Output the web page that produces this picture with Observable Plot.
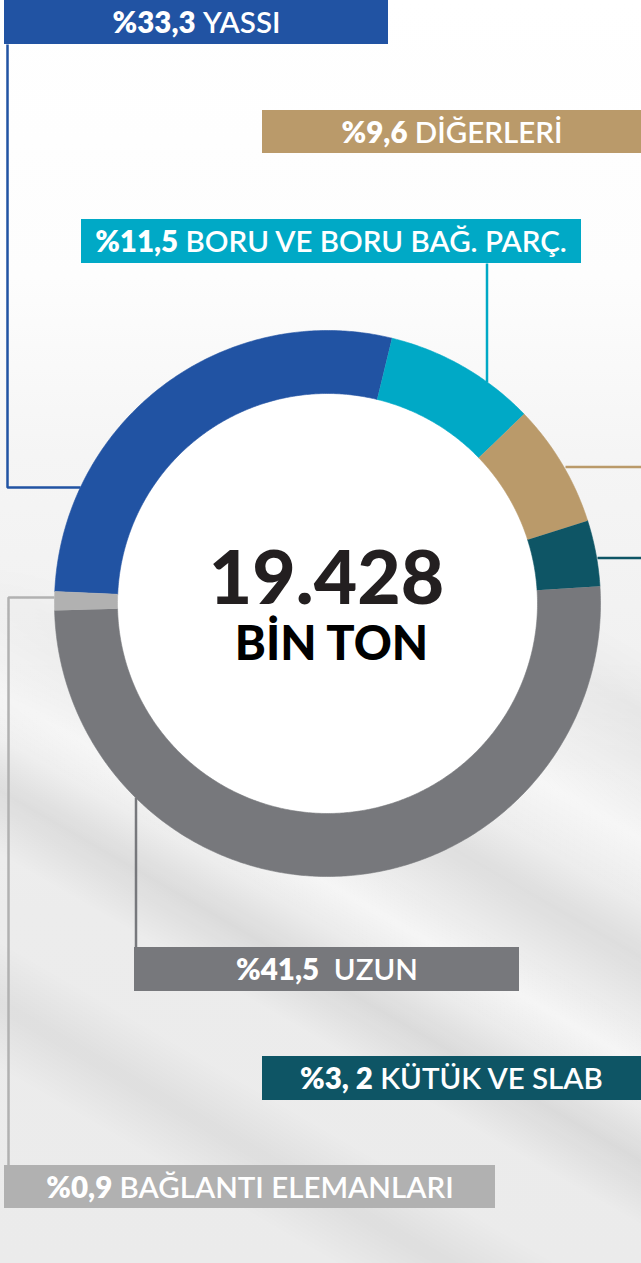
<!DOCTYPE html>
<html>
<head>
<meta charset="utf-8">
<script src="https://cdn.jsdelivr.net/npm/d3@7"></script>
<script src="https://cdn.jsdelivr.net/npm/@observablehq/plot@0.6"></script>
<style>
  html, body { margin: 0; padding: 0; }
  body {
    width: 641px; height: 1263px; overflow: hidden; position: relative;
    background: linear-gradient(180deg, #ffffff 0%, #fdfdfd 22%, #f5f5f5 36%, #f1f1f1 52%, #ececec 72%, #ebebeb 100%);
  }
  #streaks {
    position: absolute; left: 0; top: 560px; width: 641px; height: 703px;
    background:
      linear-gradient(30deg, transparent 0%, transparent 18%, rgba(0,0,0,0.05) 24%, transparent 30%,
        transparent 38%, rgba(0,0,0,0.07) 44%, transparent 49%, rgba(255,255,255,0.5) 53%, transparent 57%,
        rgba(0,0,0,0.06) 63%, transparent 68%, rgba(255,255,255,0.5) 74%, transparent 79%,
        rgba(0,0,0,0.05) 86%, transparent 92%);
    -webkit-mask-image: linear-gradient(to bottom, transparent 0%, #000 30%);
    mask-image: linear-gradient(to bottom, transparent 0%, #000 30%);
  }
  #chart { position: absolute; left: 0; top: 0; }
</style>
</head>
<body>
<div id="streaks"></div>
<div id="chart"></div>
<script>
// ---------- data ----------
const categories = ["YASSI", "BORU VE BORU BAĞ. PARÇ.", "DİĞERLERİ", "KÜTÜK VE SLAB", "UZUN", "BAĞLANTI ELEMANLARI"];
const pctLabels  = ["%33,3", "%11,5", "%9,6", "%3, 2", "%41,5", "%0,9"];
// arc share of each slice as drawn in the picture (percent of the ring)
const arcShare   = [28.1, 9.0, 7.3, 3.9, 50.6, 1.1];
const colors     = ["#2153a3", "#00a9c6", "#ba9a6a", "#0e5565", "#77787c", "#b1b1b1"];
const totalValue = "19.428";
const totalUnit  = "BİN TON";

// ---------- layout ----------
const W = 641, H = 1263;
const ring = {cx: 327, cy: 603, outer: 273, inner: 210, startDeg: 272.5};
const labelLayout = [
  {x1: 4,   y1: 0,    x2: 388, y2: 44,  gap: 1, leader: [[7, 44], [7, 487], [80, 487]]},
  {x1: 81,  y1: 219,  x2: 581, y2: 263, gap: 1, leader: [[486.5, 263], [486.5, 382]]},
  {x1: 262, y1: 110,  x2: 641, y2: 153, gap: 1, leader: [[565, 466.5], [641, 466.5]]},
  {x1: 262, y1: 1056, x2: 641, y2: 1100, gap: 1, leader: [[597, 557.5], [641, 557.5]]},
  {x1: 134, y1: 947,  x2: 519, y2: 991, gap: 2, leader: [[135.5, 797], [135.5, 947]]},
  {x1: 4,   y1: 1165, x2: 495, y2: 1208, gap: 1, leader: [[54, 597], [8, 597], [8, 1165]]}
];
const labelFont = {family: "Lato", size: 29.5, capRatio: 0.72, pctWeight: 800, nameWeight: 600};

// ---------- build ----------
const rows = categories.map((name, i) => ({name, share: arcShare[i], pct: pctLabels[i]}));
const a0 = ring.startDeg * Math.PI / 180;
const arcs = d3.pie().sort(null).value(d => d.share).startAngle(a0).endAngle(a0 + 2 * Math.PI)(rows);

const ringPts = arcs.flatMap(a => {
  const n = Math.max(2, Math.ceil((a.endAngle - a.startAngle) / (Math.PI / 360)));
  const pts = [];
  for (let k = 0; k <= n; k++) {
    const t = a.startAngle + (a.endAngle - a.startAngle) * k / n;
    pts.push({name: a.data.name, x: ring.cx + ring.outer * Math.sin(t), y: ring.cy - ring.outer * Math.cos(t)});
  }
  for (let k = n; k >= 0; k--) {
    const t = a.startAngle + (a.endAngle - a.startAngle) * k / n;
    pts.push({name: a.data.name, x: ring.cx + ring.inner * Math.sin(t), y: ring.cy - ring.inner * Math.cos(t)});
  }
  return pts;
});

const leaderPts = rows.flatMap((r, i) => labelLayout[i].leader.map(([x, y]) => ({name: r.name, x, y})));
const boxRows = rows.map((r, i) => ({name: r.name, ...labelLayout[i]}));

const ctx = document.createElement("canvas").getContext("2d");
function measure(str, weight) {
  ctx.font = `${weight} ${labelFont.size}px ${labelFont.family}`;
  return ctx.measureText(str).width;
}
const textRows = rows.map((r, i) => {
  const L = labelLayout[i];
  const pw = measure(r.pct, labelFont.pctWeight);
  const sw = measure(" ", labelFont.nameWeight) * L.gap;
  const nw = measure(r.name, labelFont.nameWeight);
  const cx = (L.x1 + L.x2) / 2;
  const px = cx - (pw + sw + nw) / 2;
  return {
    name: r.name, pct: r.pct,
    px, nx: px + pw + sw,
    by: (L.y1 + L.y2) / 2 + labelFont.size * labelFont.capRatio / 2
  };
});

const center = [{x: ring.cx, y: ring.cy}];

const chart = Plot.plot({
  width: W, height: H,
  margin: 0,
  style: {background: "transparent", overflow: "visible"},
  x: {domain: [0, W], range: [0, W], axis: null},
  y: {domain: [0, H], range: [0, H], axis: null},
  color: {domain: categories, range: colors},
  marks: [
    Plot.dot(center, {x: "x", y: "y", r: ring.inner + 1, fill: "white", stroke: null}),
    Plot.line(leaderPts, {x: "x", y: "y", z: "name", stroke: "name", strokeWidth: 2.5,
      strokeLinecap: "butt", strokeLinejoin: "miter", curve: "linear"}),
    Plot.line(ringPts, {x: "x", y: "y", z: "name", fill: "name", stroke: "name",
      strokeWidth: 0.6, curve: "linear"}),
    Plot.rect(boxRows, {x1: "x1", x2: "x2", y1: "y1", y2: "y2", fill: "name"}),
    Plot.text(textRows, {x: "px", y: "by", text: "pct", textAnchor: "start", lineAnchor: "bottom",
      fill: "white", fontFamily: labelFont.family, fontSize: labelFont.size, fontWeight: labelFont.pctWeight}),
    Plot.text(textRows, {x: "nx", y: "by", text: "name", textAnchor: "start", lineAnchor: "bottom",
      fill: "white", fontFamily: labelFont.family, fontSize: labelFont.size, fontWeight: labelFont.nameWeight}),
    Plot.text(center, {x: "x", y: "y", text: () => totalValue, textAnchor: "middle", lineAnchor: "bottom",
      fill: "#231f20", fontFamily: "Lato", fontSize: 75, fontWeight: 900, dx: -1}),
    Plot.text(center, {x: "x", y: d => d.y + 56, text: () => totalUnit, textAnchor: "middle", lineAnchor: "bottom",
      fill: "#000000", fontFamily: "Lato", fontSize: 47, fontWeight: 900, dx: 4})
  ]
});
document.getElementById("chart").appendChild(chart);
</script>
</body>
</html>
